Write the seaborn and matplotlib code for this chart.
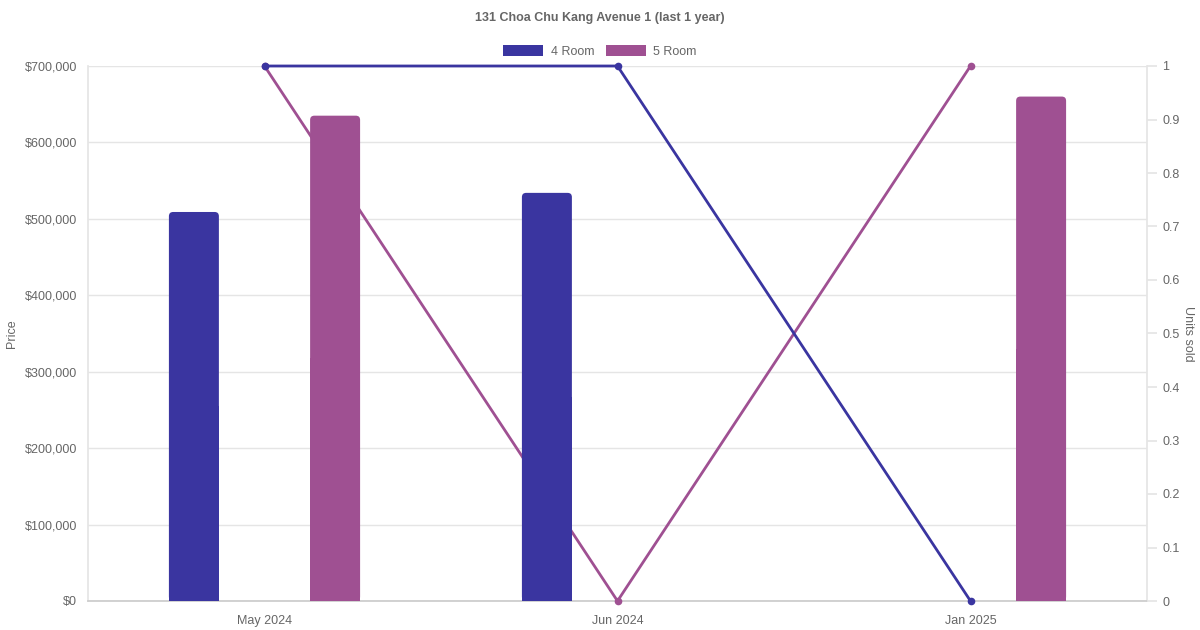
import matplotlib
matplotlib.use("Agg")
import matplotlib.pyplot as plt
import seaborn as sns
import pandas as pd
from matplotlib.patches import Patch, FancyBboxPatch
from matplotlib.ticker import FuncFormatter, MultipleLocator

months = ["May 2024", "Jun 2024", "Jan 2025"]
series = ["4 Room", "5 Room"]
price_4room = [509000, 534000, 0]
price_5room = [635000, 0, 660000]
units_4room = [1, 1, 0]
units_5room = [1, 0, 1]
colors = {"4 Room": "#3a35a0", "5 Room": "#9f5092"}
title = "131 Choa Chu Kang Avenue 1 (last 1 year)"

sns.set_theme(style="white")
plt.rcParams["font.family"] = ["Liberation Sans", "DejaVu Sans"]
TXT = "#666666"

price_df = pd.DataFrame({
    "month": months * 2,
    "type": ["4 Room"] * 3 + ["5 Room"] * 3,
    "price": price_4room + price_5room,
})
units_df = pd.DataFrame({
    "pos": list(range(len(months))) * 2,
    "type": ["4 Room"] * 3 + ["5 Room"] * 3,
    "units": units_4room + units_5room,
})

rect = [88/1200, 1-601/630, (1147-88)/1200, (601-66)/630]
fig = plt.figure(figsize=(12, 6.3), dpi=100)

# grid layer (bottom)
axg = fig.add_axes(rect, zorder=0)
axg.set_xlim(-0.5, len(months) - 0.5)
axg.set_ylim(0, 700000)
axg.yaxis.set_major_locator(MultipleLocator(100000))
axg.grid(axis="y", color="#e5e5e5", linewidth=1)
axg.grid(axis="x", visible=False)
axg.tick_params(length=0, labelleft=False, labelbottom=False)
for s in axg.spines.values():
    s.set_visible(False)

ax = fig.add_axes(rect, zorder=2)
ax2 = ax.twinx()
ax2.set_zorder(1)
ax.patch.set_visible(False)
ax2.patch.set_visible(False)

sns.barplot(data=price_df, x="month", y="price", hue="type", order=months,
            hue_order=series, palette=colors, width=0.8, gap=0.646,
            ax=ax, legend=False, saturation=1, edgecolor="none")

# round the top corners of bars
for p in list(ax.patches):
    h = p.get_height()
    if h <= 0:
        p.remove()
        continue
    x, y, w = p.get_x(), p.get_y(), p.get_width()
    fc = p.get_facecolor()
    p.remove()
    rr = FancyBboxPatch((x, y), w, h, boxstyle="round,pad=0,rounding_size=0.012",
                        mutation_aspect=700000 / (601-66) * 353,
                        facecolor=fc, edgecolor="none", zorder=3)
    ax.add_patch(rr)
    ax.add_patch(plt.Rectangle((x, y), w, h*0.5, facecolor=fc, edgecolor="none", zorder=3))

sns.lineplot(data=units_df, x="pos", y="units", hue="type", hue_order=series,
             palette=colors, ax=ax2, legend=False, linewidth=2.0,
             marker="o", markersize=5.5, markeredgewidth=0)
for i, ln in enumerate(ax2.lines):
    ln.set_clip_on(False)
    ln.set_zorder(4 - i)

ax.set_xlim(-0.5, len(months) - 0.5)
ax.set_ylim(0, 700000)
ax2.set_ylim(0, 1)
ax.yaxis.set_major_locator(MultipleLocator(100000))
ax.yaxis.set_major_formatter(FuncFormatter(lambda v, _: f"${int(v):,}"))
ax2.yaxis.set_major_locator(MultipleLocator(0.1))
ax2.yaxis.set_major_formatter(FuncFormatter(lambda v, _: f"{round(v, 1):g}"))

ax.grid(False)
ax2.grid(False)

for a in (ax, ax2):
    for s in a.spines.values():
        s.set_visible(False)
axg.spines["left"].set_visible(True)
axg.spines["left"].set_color("#e5e5e5")
axg.spines["right"].set_visible(True)
axg.spines["right"].set_color("#e5e5e5")
axg.spines["bottom"].set_visible(True)
axg.spines["bottom"].set_color("#cccccc")

ax.tick_params(axis="y", length=0, pad=8, labelsize=9, labelcolor=TXT)
ax.tick_params(axis="x", length=0, pad=10, labelsize=9, labelcolor=TXT)
ax2.tick_params(axis="y", length=7, color="#e5e5e5", pad=4, labelsize=9, labelcolor=TXT)

ax.set_xlabel("")
ax.set_ylabel("Price", color=TXT, fontsize=9, labelpad=5)
ax2.set_ylabel("Units sold", color=TXT, fontsize=9, rotation=270, labelpad=10)
ax2.set_xlabel("")

fig.text(0.5, 1-18/630, title, ha="center", va="center", fontsize=9,
         fontweight="bold", color=TXT)

handles = [Patch(facecolor=colors[s], edgecolor="none", label=s) for s in series]
fig.legend(handles=handles, loc="center", bbox_to_anchor=(0.5, 1-51.5/630),
           ncol=2, frameon=False, fontsize=9, labelcolor=TXT,
           handlelength=3.2, handleheight=0.95, handletextpad=0.6, columnspacing=0.9)

fig.savefig("out.png", dpi=100)
